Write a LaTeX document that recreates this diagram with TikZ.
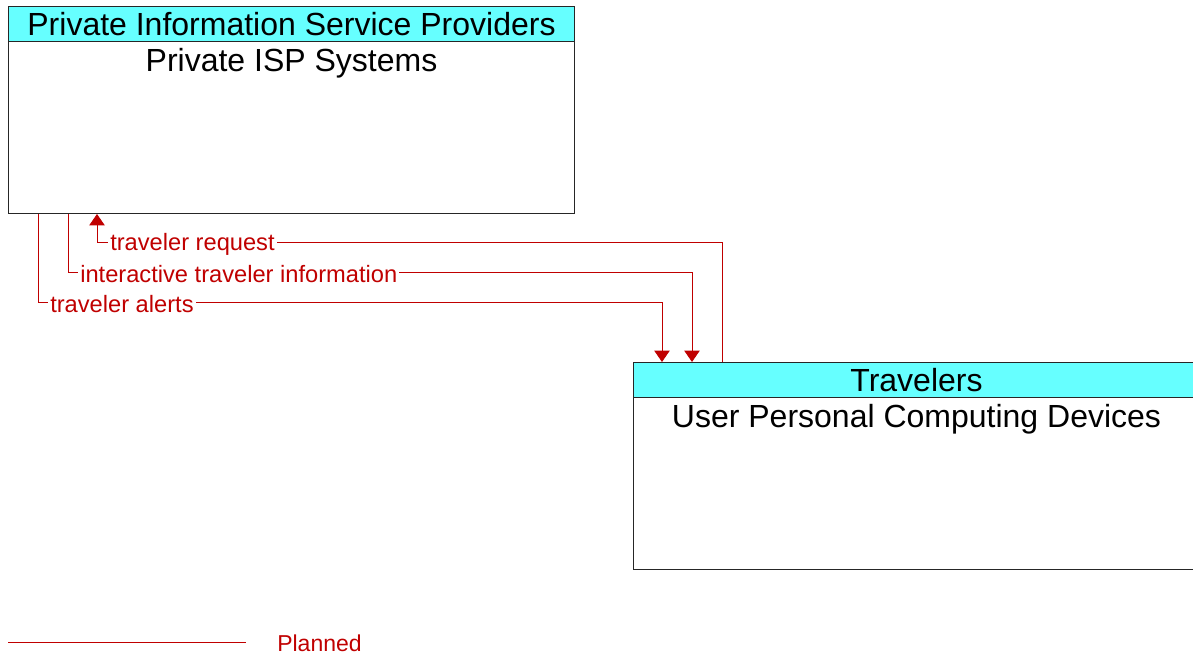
\documentclass[tikz,border=0pt]{standalone}
\usepackage{fontspec}
\setmainfont{Liberation Sans}
\usetikzlibrary{arrows.meta,positioning,calc}
\definecolor{plannedred}{RGB}{192,0,0}
\definecolor{headcyan}{RGB}{102,255,255}

\tikzset{
  sysbox/.style={draw=black!85,line width=0.75pt,anchor=north west,inner sep=0pt,
    minimum width=424.5pt,minimum height=155.25pt},
  headbox/.style={draw=black!85,line width=0.75pt,fill=headcyan,anchor=north west,inner sep=0pt,
    minimum width=424.5pt,minimum height=26.25pt,font=\fontsize{24}{28}\selectfont},
  sysname/.style={anchor=north,inner xsep=0pt,inner ysep=4.5pt,font=\fontsize{24}{28}\selectfont},
  flow/.style={plannedred,line width=0.75pt},
  flowlabel/.style={fill=white,text=plannedred,anchor=west,inner xsep=1.5pt,inner ysep=0pt,
    font=\fontsize{17.75}{20}\selectfont},
  toisp/.style={{Triangle[width=11.5pt,length=8.5pt]}-},
  totrav/.style={-{Triangle[width=11.5pt,length=8.5pt]}}
}

\begin{document}
\begin{tikzpicture}[x=0.75pt,y=-0.75pt]
  \useasboundingbox (0,0) rectangle (1193,655);

  % Private ISP
  \node[sysbox] (isp) at (8,6) {};
  \node[headbox] (isphead) at (isp.north west) {Private Information Service Providers};
  \node[sysname] (ispname) at (isphead.south) {Private ISP Systems};

  % Travelers
  \node[sysbox] (trav) at (633,362) {};
  \node[headbox] (travhead) at (trav.north west) {Travelers};
  \node[sysname] (travname) at (travhead.south) {User Personal Computing Devices};

  % Flows
  \draw[flow,toisp] ($(isp.south west)+(89,0)$) |- ($(trav.north west)+(89,-119)$) -- ($(trav.north west)+(89,0)$);
  \draw[flow,totrav] ($(isp.south west)+(60,0)$) |- ($(trav.north west)+(59,-89)$) -- ($(trav.north west)+(59,0)$);
  \draw[flow,totrav] ($(isp.south west)+(30,0)$) |- ($(trav.north west)+(29,-59)$) -- ($(trav.north west)+(29,0)$);
  \node[flowlabel] (lbreq) at ($(isp.south west)+(100,30)$) {traveler request};
  \node[flowlabel] (lbinfo) at ($(isp.south west)+(70,60)$) {interactive traveler information};
  \node[flowlabel] (lbalert) at ($(isp.south west)+(40,90)$) {traveler alerts};

  % Legend
  \coordinate (lgA) at (8,643);
  \coordinate (lgB) at (246,643);
  \draw[flow] (lgA) -- (lgB);
  \node[text=plannedred,anchor=west,inner sep=0pt,font=\fontsize{17.25}{20}\selectfont] (lgtext) at (277,643) {Planned};
\end{tikzpicture}
\end{document}
